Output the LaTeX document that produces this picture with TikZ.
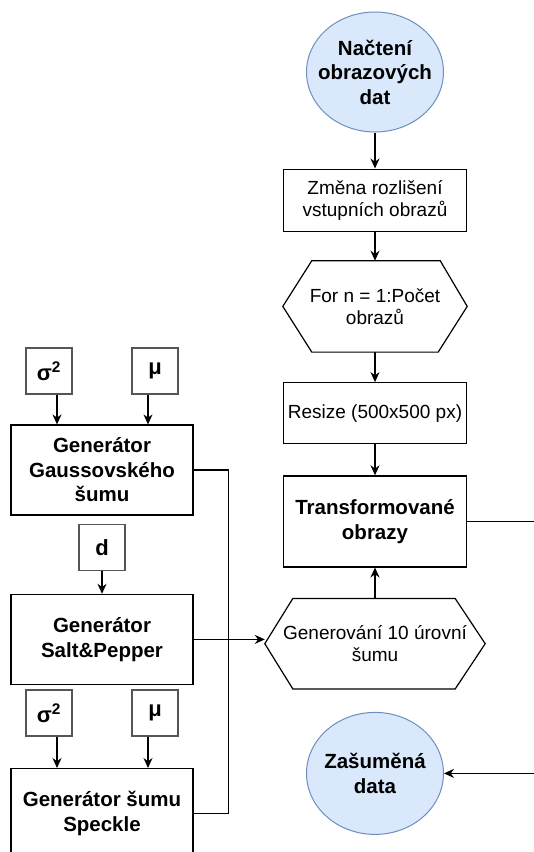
\documentclass[tikz,border=0pt]{standalone}
\usepackage{fontspec}
\setmainfont{Liberation Sans}
\definecolor{ioblue}{HTML}{DAE8FC}
\definecolor{ioedge}{HTML}{6C8EBF}
\definecolor{parmedge}{HTML}{555555}
\usetikzlibrary{arrows.meta,positioning,shapes.geometric}

\begin{document}
\begin{tikzpicture}[x=1pt,y=-1pt,
    proc/.style={draw,line width=1.2pt,minimum width=183pt,align=center,inner sep=0pt,font=\fontsize{19}{22}\selectfont},
    gen/.style={draw,line width=1.2pt,minimum width=182pt,minimum height=90pt,align=center,inner sep=0pt,font=\fontsize{20.5}{24.5}\selectfont\bfseries},
    parm/.style={draw=parmedge,line width=1.2pt,minimum size=46pt,inner sep=0pt,font=\fontsize{22}{26}\selectfont\bfseries},
    term/.style={ellipse,draw=ioedge,fill=ioblue,line width=1pt,minimum width=137pt,minimum height=120pt,inner xsep=-12pt,inner ysep=0pt,align=center,font=\fontsize{20.5}{24.5}\selectfont\bfseries},
    hexa/.style={minimum height=91pt,align=center,inner sep=0pt,font=\fontsize{19}{22}\selectfont},
    arr/.style={-{Stealth[length=10pt,width=9pt]},line width=1.2pt}]
    \useasboundingbox (0,0) rectangle (534,852);
    % main column
    \node[term] (load) at (375,72) {Načtení\\obrazových\\dat};
    \node[proc,minimum height=62pt,below=36pt of load] (rescale) {Změna rozlišení\\vstupních obrazů};
    \node[hexa,minimum width=184pt,below=29pt of rescale] (loop) {For n = 1:Počet\\obrazů};
    \node[proc,minimum height=61pt,below=30pt of loop] (resize) {Resize (500x500 px)};
    \node[proc,minimum height=91pt,below=31pt of resize,font=\fontsize{20.5}{24.5}\selectfont\bfseries] (trans) {Transformované\\obrazy};
    \node[hexa,minimum width=220pt,minimum height=90pt,below=31pt of trans] (levels) {Generování 10 úrovní\\šumu};
    \node[term,minimum height=122pt,below=23pt of levels] (noisy) {Zašuměná\\data};
    \draw[line width=1.2pt] (loop.west) -- ([xshift=29pt]loop.north west) -- ([xshift=-27pt]loop.north east)
      -- (loop.east) -- ([xshift=-29pt]loop.south east) -- ([xshift=29pt]loop.south west) -- cycle;
    \draw[line width=1.2pt] (levels.west) -- ([xshift=28pt]levels.north west) -- ([xshift=-30pt]levels.north east)
      -- (levels.east) -- ([xshift=-30pt]levels.south east) -- ([xshift=28pt]levels.south west) -- cycle;
    % noise generators
    \node[gen] (gauss) at (102,470) {Generátor\\Gaussovského\\šumu};
    \node[parm] (sigA) at (49,371) {σ\textsuperscript{2}};
    \node[parm] (muA) at (155,371) {μ};
    \node[parm,below=8pt of gauss] (dens) {d};
    \node[gen,below=23pt of dens] (salt) {Generátor\\Salt\&Pepper};
    \node[parm] (sigB) at (49,713) {σ\textsuperscript{2}};
    \node[parm] (muB) at (155,713) {μ};
    \node[gen,below=83pt of salt] (speckle) {Generátor šumu\\Speckle};
    \coordinate (offright) at (545,516);
    % connectors
    \draw[arr] (load) -- (rescale);
    \draw[arr] (rescale) -- (loop);
    \draw[arr] (loop) -- (resize);
    \draw[arr] (resize) -- (trans);
    \draw[arr] (levels) -- (trans);
    \draw[arr] (trans.east) -- (trans.east -| offright) |- (noisy.east);
    \draw[arr] ([xshift=8pt]sigA.south) -- ([xshift=8pt]sigA.south |- gauss.north);
    \draw[arr] ([xshift=-7pt]muA.south) -- ([xshift=-7pt]muA.south |- gauss.north);
    \draw[arr] (dens) -- (dens.south |- salt.north);
    \draw[arr] ([xshift=8pt]sigB.south) -- ([xshift=8pt]sigB.south |- speckle.north);
    \draw[arr] ([xshift=-7pt]muB.south) -- ([xshift=-7pt]muB.south |- speckle.north);
    \draw[line width=1.2pt] (gauss.east) -- ++(35,0) |- (speckle.east);
    \draw[arr] (salt.east) -- (salt.east -| levels.west);
  \end{tikzpicture}
\end{document}
